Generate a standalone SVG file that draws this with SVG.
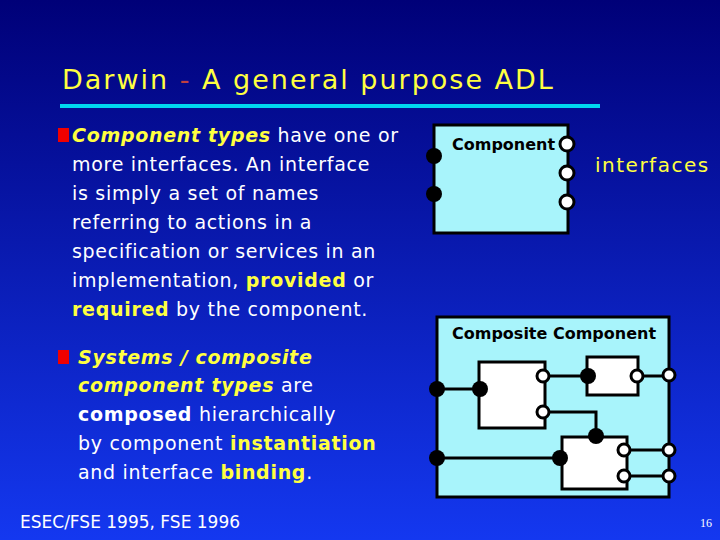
<svg xmlns="http://www.w3.org/2000/svg" width="720" height="540" viewBox="0 0 720 540">
<defs>
<linearGradient id="bg" x1="0" y1="0" x2="0" y2="1">
<stop offset="0" stop-color="#000078"/><stop offset="1" stop-color="#1438f0"/>
</linearGradient>
<style>
text{font-family:"DejaVu Sans","Liberation Sans",sans-serif}
.b{fill:#fff;font-size:19px;letter-spacing:0.7px}
.y{fill:#ffff40;font-weight:bold}
.w{font-weight:bold}
.i{font-style:italic}
.box{fill:#a8f4fb;stroke:#000;stroke-width:3}
.in{fill:#fff;stroke:#000;stroke-width:3}
.f{fill:#000}
.o{fill:#fff;stroke:#000;stroke-width:3}
.l{stroke:#000;stroke-width:3;fill:none}
.lab{fill:#000;font-size:16px;font-weight:bold}
</style>
</defs>
<rect width="720" height="540" fill="url(#bg)"/>
<text x="62" y="89" font-size="27" fill="#ffff40" letter-spacing="2">Darwin <tspan fill="#c04040">-</tspan> A general purpose ADL</text>
<rect x="60" y="104" width="540" height="4" fill="#00d8f0"/>
<rect x="58" y="128" width="11" height="14" fill="#f00000"/>
<rect x="58" y="350" width="11" height="14" fill="#f00000"/>
<g class="b">
<text x="72" y="142"><tspan class="y i">Component types</tspan> have one or</text>
<text x="72" y="171">more interfaces. An interface</text>
<text x="72" y="200">is simply a set of names</text>
<text x="72" y="229">referring to actions in a</text>
<text x="72" y="258">specification or services in an</text>
<text x="72" y="287">implementation, <tspan class="y">provided</tspan> or</text>
<text x="72" y="316"><tspan class="y">required</tspan> by the component.</text>
<text x="78" y="364" class="y i">Systems / composite</text>
<text x="78" y="392"><tspan class="y i">component types</tspan> are</text>
<text x="78" y="421"><tspan class="w">composed</tspan> hierarchically</text>
<text x="78" y="450">by component <tspan class="y">instantiation</tspan></text>
<text x="78" y="479">and interface <tspan class="y">binding</tspan>.</text>
</g>
<g id="component">
<rect class="box" x="434" y="125" width="134" height="108"/>
<text class="lab" x="452" y="150">Component</text>
<circle class="f" cx="434" cy="156" r="8"/><circle class="f" cx="434" cy="194" r="8"/>
<circle class="o" cx="567" cy="144" r="7"/><circle class="o" cx="567" cy="173" r="7"/><circle class="o" cx="567" cy="202" r="7"/>
</g>
<text x="595" y="172" font-size="20" fill="#ffff40" letter-spacing="1.5">interfaces</text>
<g id="composite">
<rect class="box" x="437" y="317" width="232" height="180"/>
<text class="lab" x="452" y="339">Composite Component</text>
<rect class="in" x="479" y="362" width="66" height="66"/>
<rect class="in" x="587" y="357" width="51" height="38"/>
<rect class="in" x="562" y="437" width="65" height="52"/>
</g>
<g id="connectors">
<path class="l" d="M437 389H480M543 376H588M637 376H669M543 412H596V436M437 458H560M624 450H669M624 476H669"/>
</g>
<g id="ports">
<circle class="f" cx="437" cy="389" r="8"/><circle class="f" cx="437" cy="458" r="8"/>
<circle class="f" cx="480" cy="389" r="8"/><circle class="f" cx="588" cy="376" r="8"/>
<circle class="f" cx="596" cy="436" r="8"/><circle class="f" cx="560" cy="458" r="8"/>
<circle class="o" cx="543" cy="376" r="6"/><circle class="o" cx="543" cy="412" r="6"/>
<circle class="o" cx="637" cy="376" r="6"/><circle class="o" cx="669" cy="375" r="6"/>
<circle class="o" cx="624" cy="450" r="6"/><circle class="o" cx="624" cy="476" r="6"/>
<circle class="o" cx="669" cy="450" r="6"/><circle class="o" cx="669" cy="476" r="6"/>
</g>
<text x="20" y="528" font-size="17" fill="#fff">ESEC/FSE 1995, FSE 1996</text>
<text x="712" y="527" font-size="12" fill="#fff" text-anchor="end" style="font-family:'Liberation Serif',serif">16</text>
</svg>
